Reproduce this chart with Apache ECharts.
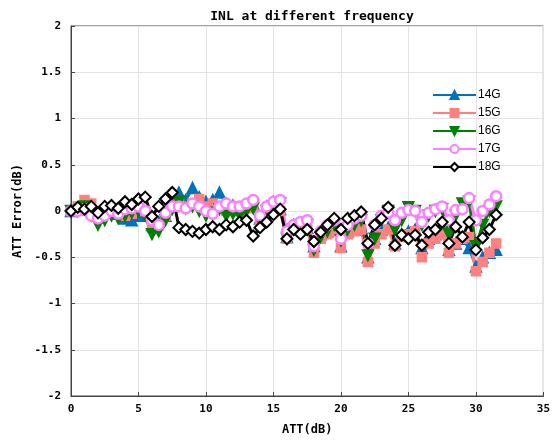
<!DOCTYPE html>
<html>
<head>
<meta charset="utf-8">
<script src="https://cdn.jsdelivr.net/npm/echarts@6/dist/echarts.min.js"></script>
<style>html,body{margin:0;padding:0;background:#fff}#c{width:553px;height:441px}</style>
</head>
<body>
<div id="c"></div>
<script>
const attValues = [0,0.5,1,1.5,2,2.5,3,3.5,4,4.5,5,5.5,6,6.5,7,7.5,8,8.5,9,9.5,10,10.5,11,11.5,12,12.5,13,13.5,14,14.5,15,15.5,16,16.5,17,17.5,18,18.5,19,19.5,20,20.5,21,21.5,22,22.5,23,23.5,24,24.5,25,25.5,26,26.5,27,27.5,28,28.5,29,29.5,30,30.5,31,31.5];
const err14G = [0,0.02,0.05,0,-0.05,-0.02,0,-0.03,-0.08,-0.1,-0.05,-0.05,-0.15,-0.12,-0.05,0.1,0.2,0.12,0.25,0.15,0.1,0.12,0.2,0.08,0.06,0.02,0.05,0.08,-0.08,0.05,0.1,0.02,-0.28,-0.15,-0.15,-0.18,-0.38,-0.25,-0.22,-0.2,-0.38,-0.22,-0.2,-0.18,-0.5,-0.3,-0.2,-0.18,-0.35,-0.25,-0.22,-0.2,-0.4,-0.3,-0.25,-0.2,-0.42,-0.35,-0.3,-0.4,-0.6,-0.5,-0.45,-0.42];
const err15G = [0,0.05,0.12,0.08,-0.05,-0.03,0,-0.02,-0.05,-0.03,0.02,0,-0.18,-0.15,-0.05,0.05,0.1,0.05,0.08,0.13,0.05,0.08,0.05,0,0.02,0,0.03,0.05,-0.1,0,0.05,0,-0.3,-0.2,-0.18,-0.2,-0.45,-0.3,-0.25,-0.22,-0.4,-0.25,-0.22,-0.2,-0.55,-0.35,-0.25,-0.2,-0.38,-0.28,-0.25,-0.22,-0.5,-0.35,-0.3,-0.25,-0.45,-0.35,-0.3,-0.28,-0.65,-0.55,-0.45,-0.35];
const err16G = [0,0,0.05,-0.05,-0.15,-0.1,-0.05,-0.08,-0.05,-0.02,0,-0.05,-0.25,-0.22,-0.1,0.02,0.1,0.03,0.05,0,-0.05,-0.02,0.02,-0.05,-0.03,-0.05,0,0.03,-0.1,0,0.05,0.08,-0.3,-0.2,-0.15,-0.15,-0.42,-0.28,-0.22,-0.15,-0.32,-0.2,-0.15,-0.1,-0.48,-0.3,-0.1,0,-0.2,-0.1,0.04,0,-0.15,-0.05,0,0.02,-0.25,-0.05,0.08,0.1,-0.38,-0.15,0,0.05];
const err17G = [0,0,0.02,-0.05,-0.08,-0.05,0,-0.03,0.02,0.03,0.05,0,-0.1,-0.15,-0.02,0.05,0.05,0.03,0.08,0.05,0,-0.03,0.05,0.08,0.05,0.05,0.08,0.12,-0.05,0.05,0.1,0.12,-0.22,-0.15,-0.12,-0.1,-0.38,-0.22,-0.15,-0.1,-0.3,-0.15,-0.08,-0.05,-0.35,-0.15,-0.05,-0.02,-0.1,-0.02,0.01,0,-0.12,-0.02,0.02,0.05,-0.1,0.01,0.02,0.14,-0.1,0,0.07,0.16];
const err18G = [0,0.04,0.02,0.05,-0.02,0.05,0.06,0.03,0.1,0.07,0.13,0.15,-0.06,0.05,0.13,0.2,-0.18,-0.2,-0.22,-0.24,-0.2,-0.17,-0.2,-0.15,-0.17,-0.12,-0.1,-0.27,-0.18,-0.12,-0.04,0.02,-0.3,-0.2,-0.25,-0.2,-0.33,-0.23,-0.15,-0.08,-0.2,-0.08,-0.05,-0.01,-0.35,-0.15,-0.08,0.04,-0.37,-0.26,-0.3,-0.26,-0.37,-0.23,-0.2,-0.12,-0.35,-0.17,-0.28,-0.12,-0.42,-0.29,-0.2,-0.04];
const seriesNames = ['14G','15G','16G','17G','18G'];
const xTicks = [0,5,10,15,20,25,30,35];
const yTicks = [-2,-1.5,-1,-0.5,0,0.5,1,1.5,2];

const pairs = arr => attValues.map((x,i)=>[x,arr[i]]);
const mono = 'DejaVu Sans Mono';
const chart = echarts.init(document.getElementById('c'), null, {renderer:'canvas'});
const mk = (name, data, color, symbol, opts) => Object.assign({
  name, type:'line', data: pairs(data), symbol, symbolSize: 11,
  lineStyle:{color, width:3}, itemStyle:{color, borderColor:color, borderWidth:1.5},
  animation:false, z:2
}, opts||{});
chart.setOption({
  animation:false,
  title:{text:'INL at different frequency', left:307, textAlign:'center', top:5,
    textStyle:{fontFamily:mono, fontWeight:'bold', fontSize:13, color:'#000'}},
  grid:{left:71, right:9, top:26, bottom:45, show:true, borderColor:'#444', borderWidth:1},
  legend:{orient:'vertical', left:427, top:84, itemWidth:43, itemHeight:10, itemGap:6,
    textStyle:{fontFamily:'Liberation Sans', fontSize:12, color:'#000', padding:[0,0,0,-3]},
    data: seriesNames},
  xAxis:{type:'value', min:0, max:35, interval:5,
    name:'ATT(dB)', nameLocation:'middle', nameGap:28,
    nameTextStyle:{fontFamily:mono, fontWeight:'bold', fontSize:12, color:'#000'},
    axisLine:{onZero:false, lineStyle:{color:'#444'}}, axisTick:{inside:true, length:4, lineStyle:{color:'#444'}},
    axisLabel:{fontFamily:mono, fontWeight:'bold', fontSize:11, color:'#000', margin:8,
      formatter: v => xTicks.includes(v) ? String(v) : ''},
    splitLine:{show:true, lineStyle:{color:'#e3e3e3'}}},
  yAxis:{type:'value', min:-2, max:2, interval:0.5,
    name:'ATT Error(dB)', nameLocation:'middle', nameGap:44,
    nameTextStyle:{fontFamily:mono, fontWeight:'bold', fontSize:12, color:'#000'},
    axisLine:{show:true, onZero:false, lineStyle:{color:'#444'}}, axisTick:{show:true, inside:true, length:4, lineStyle:{color:'#444'}},
    axisLabel:{fontFamily:mono, fontWeight:'bold', fontSize:11, color:'#000', margin:10,
      formatter: v => yTicks.includes(v) ? String(v) : ''},
    splitLine:{show:true, lineStyle:{color:'#e3e3e3'}}},
  series:[
    mk('14G', err14G, '#0072BD', 'triangle'),
    mk('15G', err15G, '#FF8080', 'rect', {symbolSize:9}),
    mk('16G', err16G, '#008000', 'triangle', {symbolRotate:180}),
    mk('17G', err17G, '#FF80FF', 'circle', {symbolSize:10, itemStyle:{color:'#fff', borderColor:'#FF80FF', borderWidth:2.5}}),
    mk('18G', err18G, '#000000', 'diamond', {symbolSize:11, itemStyle:{color:'#fff', borderColor:'#000', borderWidth:2}})
  ]
});
</script>
</body>
</html>
